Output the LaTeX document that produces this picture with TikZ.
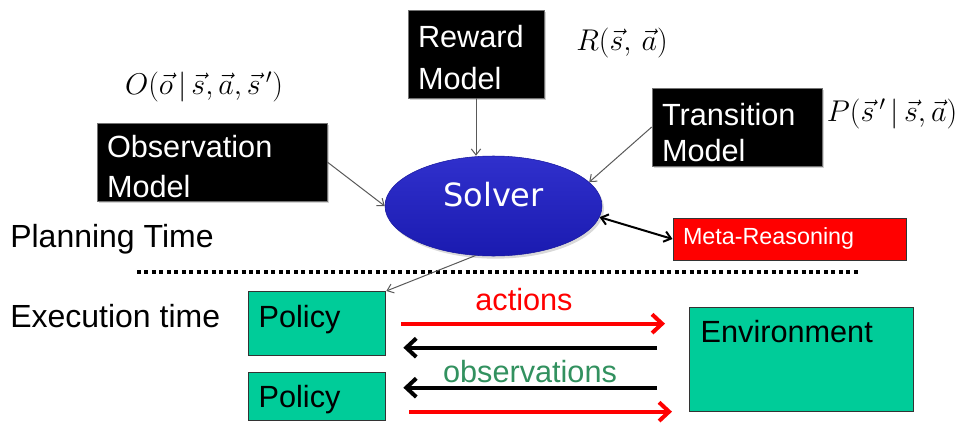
\RequirePackage{fix-cm}
\documentclass[tikz,border=0pt]{standalone}
\usepackage{fontspec}
\setmainfont{Liberation Sans}
\newfontfamily\solverfont{DejaVu Sans}
\usetikzlibrary{arrows.meta, calc, shadows, shapes.geometric}
\definecolor{policygreen}{RGB}{0,204,153}
\definecolor{obsgreen}{RGB}{50,145,95}
\definecolor{solverblue}{RGB}{30,30,200}

\begin{document}
\begin{tikzpicture}[
    x=0.75pt, y=-0.75pt,
    font=\fontsize{23}{30}\selectfont,
    model/.style={rectangle, draw=black!55, fill=black, text=white, align=left, inner xsep=7.5pt, inner ysep=0pt, drop shadow={opacity=0.35, shadow xshift=1.5pt, shadow yshift=-1.5pt}},
    agent/.style={rectangle, draw=black!80, line width=1pt, fill=policygreen, align=left, inner xsep=7.5pt, inner ysep=0pt, anchor=north west},
    formula/.style={font=\fontsize{22.5}{27}\selectfont, inner sep=0pt},
    conn/.style={draw=black!65, line width=0.75pt, -{Straight Barb[length=4.5pt, width=7pt]}},
    act/.style={draw=red, line width=3pt, -{Straight Barb[length=7.5pt, width=14pt]}},
    obsv/.style={draw=black, line width=3pt, -{Straight Barb[length=7.5pt, width=14pt]}}
]
\useasboundingbox (0,0) rectangle (961,422);

% Nodes
\node[model, text width=87pt, text height=27.75pt, text depth=38.25pt, font=\fontsize{23}{31.5}\selectfont] (reward) at (476,54) {Reward\\Model};
\node[model, text width=157.5pt, text height=25.5pt, text depth=33pt] (observation) at (212,162) {Observation\\Model};
\node[model, text width=112.5pt, text height=27.75pt, text depth=30.75pt, font=\fontsize{23}{27}\selectfont] (transition) at (737,127) {Transition\\Model};
\node[ellipse, minimum width=162.75pt, minimum height=75pt, inner sep=0pt, top color=solverblue!92!white, bottom color=solverblue!88!black, draw=solverblue!80!black, text=white, font=\solverfont\fontsize{24}{28}\selectfont, text height=10pt, text depth=10pt, drop shadow={opacity=0.3, shadow xshift=1.5pt, shadow yshift=-2pt}] (solver) at (493.5,206) {Solver};
\node[rectangle, draw=black!80, line width=0.75pt, fill=red, text=white, align=left, text width=159.75pt, text height=19.5pt, text depth=12pt, inner xsep=7.5pt, inner ysep=0pt, font=\fontsize{17.5}{21}\selectfont] (meta) at (789.5,239) {Meta-Reasoning};

\node[formula] (obsfun) at (204,87) {$O(\vec{o}\,|\,\vec{s},\vec{a},\vec{s}\,')$};
\node[formula] (rewfun) at (622,43) {$R(\vec{s},\,\vec{a})$};
\node[formula] (transfun) at (892,114) {$P(\vec{s}\,'\,|\,\vec{s},\vec{a})$};

\node[anchor=base west, inner sep=0pt, font=\fontsize{24}{30}\selectfont] (plan) at (10,247) {Planning Time};
\node[anchor=base west, inner sep=0pt, font=\fontsize{24}{30}\selectfont] (exec) at (10,327) {Execution time};

\node[agent, text width=87.75pt, text height=27pt, text depth=21pt] (policy1) at (248,291) {Policy};
\node[agent, text width=87.75pt, text height=26.25pt, text depth=9.75pt] (policy2) at (248,372) {Policy};
\node[agent, text width=151.5pt, inner xsep=8.25pt, text height=26.25pt, text depth=51.75pt] (env) at (689,307) {Environment};

\node[anchor=base, inner sep=0pt, text=red] (actlbl) at (524,310) {actions};
\node[anchor=base, inner sep=0pt, text=obsgreen] (obslbl) at (530,382) {observations};

% Divider
\draw[line width=2.8pt, dash pattern=on 3pt off 2.6pt] (137,272) -- (860,272);

% Edges
\draw[conn] (reward.south) -- (reward.south |- solver.north);
\draw[conn] (observation.east) -- (solver.west);
\draw[conn] (transition.west) -- (solver.14);
\draw[conn] (solver.250) -- (policy1.north east);
\draw[draw=black, line width=1.5pt, {Straight Barb[length=5pt, width=8pt]}-{Straight Barb[length=5pt, width=8pt]}] (solver.-6) -- (meta.west);

% Policy <-> Environment
\draw[act, shorten <=11.25pt, shorten >=18pt] (policy1.east) -- (policy1.east -| env.west);
\draw[obsv, shorten <=24pt, shorten >=12.75pt] ($(policy1.east -| env.west)+(0,24)$) -- ($(policy1.east)+(0,24)$);
\draw[obsv, shorten <=24pt, shorten >=12.75pt] ($(policy2.east -| env.west)+(0,-9)$) -- ($(policy2.east)+(0,-9)$);
\draw[act, shorten <=17.25pt, shorten >=12.75pt] ($(policy2.east)+(0,15)$) -- ($(policy2.east -| env.west)+(0,15)$);

\end{tikzpicture}
\end{document}
